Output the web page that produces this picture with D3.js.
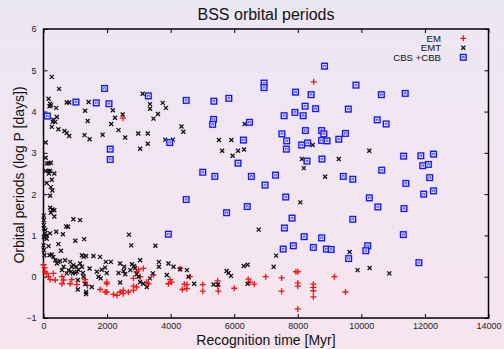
<!DOCTYPE html>
<html>
<head>
<meta charset="utf-8">
<script src="https://cdnjs.cloudflare.com/ajax/libs/d3/7.8.5/d3.min.js"></script>
<style>
  html, body { margin: 0; padding: 0; }
  body { width: 504px; height: 349px; overflow: hidden; }
</style>
</head>
<body>
<div id="chart"></div>
<script>
// time [Myr], log P [days]
const emPoints = [
  [8500,4.72],[2500,3.84],[6990,0.0],[7490,-0.03],[7490,-0.35],[7940,0.12],[8000,0.12],[8000,-0.15],
  [8000,-0.23],[8000,-0.78],[8490,-0.18],[8490,-0.26],[8490,-0.34],[8490,-0.49],[9150,0.0],[9500,-0.37],
  [6000,-0.28],[5480,-0.10],[5480,-0.23],[5500,-0.35],[5010,-0.19],[5010,-0.35],[6630,-0.18],[6500,-0.13],
  [6440,-0.06],[4610,0.0],[4510,-0.19],[4430,-0.18],[4370,-0.31],[4510,-0.29],[4300,0.2],[4030,-0.13],
  [3930,-0.17],[3980,-0.07],[3460,0.04],[3250,-0.13],[3300,-0.17],[3140,0.2],[2930,0.12],[2990,0.17],
  [2830,-0.04],[3040,0.0],[2830,-0.23],[2930,-0.25],[2830,-0.33],[2670,-0.37],[2510,-0.33],[2510,-0.41],
  [2410,-0.37],[2310,-0.45],[2200,-0.43],[1990,-0.37],[1940,-0.37],[1780,-0.31],[1990,-0.13],[1990,-0.17],
  [1380,-0.21],[1310,-0.13],[1310,-0.07],[1050,-0.19],[890,-0.07],[840,-0.17],[580,0.0],[580,-0.17],
  [630,-0.08],[370,-0.08],[310,0.08],[210,-0.07],[160,0.0],[100,0.08],[50,0.12],[30,0.22],[0,0.29]
];

const emtPoints = [
  [260,4.84],[490,4.55],[160,4.31],[210,4.19],[190,4.13],[240,4.15],[400,4.09],[730,4.22],[810,4.22],
  [1420,4.23],[1310,4.02],[2180,4.03],[2250,3.85],[2490,3.93],[3120,4.43],[3350,4.18],[3350,4.07],
  [3460,3.83],[3600,3.94],[3750,4.21],[3850,4.09],[420,3.87],[310,3.80],
  [290,3.75],[370,3.75],[260,3.63],[470,3.57],[660,3.53],[730,3.48],[810,3.41],[1290,3.43],[1450,3.33],
  [1390,3.77],[1860,3.44],[2130,3.70],[2360,3.55],[2570,3.37],[2980,3.47],[3280,3.47],[3280,3.22],
  [3040,3.10],[3830,3.32],[4070,3.32],[4340,3.64],[4400,3.51],[6330,3.70],[5520,3.31],[5910,3.31],
  [5620,3.05],[5950,2.93],[6120,3.05],[6310,3.08],[8130,2.85],[8190,2.63],[8470,3.19],[9290,2.85],
  [8860,2.42],[10250,3.05],[8080,1.80],[6770,1.14],[2690,1.02],
  [70,3.25],[70,2.88],[100,2.74],[160,2.75],[230,2.76],[70,2.56],[160,2.56],[210,2.56],[340,2.50],
  [170,2.50],[260,2.35],[100,2.27],[230,2.17],[280,2.09],[210,1.96],[210,1.67],[280,1.63],[340,1.61],
  [230,1.55],[340,1.46],[10,1.48],[10,1.37],[940,1.39],[1150,1.37],[710,1.22],[770,1.21],[10,1.25],
  [10,1.17],[60,1.13],[400,1.09],[610,1.03],[50,1.05],[100,1.00],
  [10,0.96],[100,0.92],[210,1.05],[1000,0.87],[1280,0.91],[2760,0.76],[3520,0.75],[0,0.76],[10,0.64],
  [30,0.52],[160,0.74],[470,0.79],[550,0.63],[260,0.54],[190,0.52],[310,0.48],[370,0.40],[470,0.36],
  [520,0.38],[420,0.32],[580,0.16],[630,0.24],[680,0.40],[840,0.36],[890,0.24],[940,0.28],[1030,0.24],
  [1100,0.17],[1150,0.32],[1210,0.52],[1260,0.48],[1340,0.50],[1570,0.50],[1780,0.48],[1960,0.36],
  [2120,0.36],[2410,0.32],[2540,0.24],[2780,0.30],[2850,0.26],[3040,0.40],[3440,0.08],[3630,0.36],
  [3630,0.24],[3930,0.32],[4090,0.24],[4300,0.18],[4510,0.16],[4560,0.0],[4740,-0.17],[5350,-0.19],
  [5490,-0.19],[5760,0.14],[5820,0.09],[5900,0.02],[6300,0.26],[6420,0.29],[6420,-0.17],[7320,0.51],
  [7240,0.24],[9630,0.60],[9880,0.16],[10260,0.21],[10880,0.08],
  [730,0.08],[790,0.16],[870,0.12],[920,0.08],[1000,0.09],[1050,0.12],[1080,-0.08],[1080,-0.31],
  [1210,0.24],[1240,0.09],[1260,0.0],[1310,-0.18],[1340,-0.37],[1340,-0.42],[1450,0.20],[1520,-0.25],
  [1680,0.12],[1730,0.0],[1800,-0.04],[1830,0.17],[1940,0.22],[1990,0.09],[2360,0.09],[2410,-0.14],
  [2520,0.14],[2570,0.06],[2730,0.16],[2880,0.21],[2930,0.06],[2990,0.0],[3040,-0.13],[3140,-0.17],
  [3250,-0.25],[3350,-0.04],[3880,0.04]
];

const cbsPoints = [
  [1920,4.56],[1020,4.23],[1660,4.21],[2060,4.19],[3300,4.38],[4490,4.27],[5360,4.25],[5830,4.32],
  [6940,4.69],[6940,4.58],[7930,4.47],[8840,5.10],[8420,4.41],[8230,4.13],[8560,4.07],[9830,4.64],
  [10630,4.41],[11380,4.44],[9590,4.06],[120,3.89],[7910,3.98],[7570,3.90],[8170,3.90],[5350,3.81],
  [10500,3.80],[6480,3.74],[5320,3.69],[10780,3.70],[6290,3.31],[3970,3.25],[2100,3.09],[2100,2.84],
  [6120,2.75],[5010,2.53],[5390,2.43],[6540,2.43],[7300,2.46],[6970,2.22],[4490,1.87],[6410,1.70],
  [5760,1.55],[7620,1.93],[7820,1.42],[7580,1.18],[8200,0.97],[8750,0.94],[3930,1.03],[7500,3.46],
  [7650,3.29],[7640,3.09],[8240,3.54],[8120,3.19],[8310,3.24],[8290,2.80],[8750,3.54],[8820,3.46],
  [8750,3.30],[8920,3.29],[8760,2.85],[9290,3.33],[9500,3.47],[9430,2.43],[9730,2.36],[9730,1.39],
  [10250,1.91],[10520,1.69],[10640,2.58],[11330,2.92],[11870,2.93],[12270,2.97],[11930,2.69],
  [12110,2.72],[12150,2.40],[11400,2.26],[11960,2.00],[12270,2.08],[11340,1.65],[11320,1.02],
  [7540,0.67],[7860,0.75],[8490,0.71],[8900,0.67],[9050,0.66],[10200,0.75],[10140,0.63],[9600,0.44],
  [11810,0.34]
];

const xTicks = [0, 2000, 4000, 6000, 8000, 10000, 12000, 14000];
const yTicks = [-1, 0, 1, 2, 3, 4, 5, 6];
const legendLabels = ["EM", "EMT", "CBS +CBB"];

const width = 504, height = 349;
const plotLeft = 43.5, plotRight = 488.5, plotTop = 29, plotBottom = 318;
const font = "'Liberation Sans', Arial, Helvetica, sans-serif";

const svg = d3.select("#chart").append("svg")
    .attr("width", width)
    .attr("height", height)
    .style("font-family", font);

const grad = svg.append("defs").append("linearGradient")
    .attr("id", "bg")
    .attr("x1", 0).attr("y1", 0).attr("x2", 0).attr("y2", 1);
grad.append("stop").attr("offset", "0%").attr("stop-color", "#ece7f4");
grad.append("stop").attr("offset", "100%").attr("stop-color", "#f7e5ee");

svg.append("rect")
    .attr("width", width)
    .attr("height", height)
    .attr("fill", "url(#bg)");

const x = d3.scaleLinear().domain([0, 14000]).range([plotLeft, plotRight]);
const y = d3.scaleLinear().domain([-1, 6]).range([plotBottom, plotTop]);

// axes, gnuplot style: ticks inward on every side
function styleAxis(g) {
    g.select(".domain").remove();
    g.selectAll(".tick line").attr("stroke", "#000").attr("stroke-width", 1);
    g.selectAll(".tick text")
        .attr("fill", "#222")
        .style("font-size", "9px")
        .style("font-family", font);
}

svg.append("g")
    .attr("transform", `translate(0,${plotBottom})`)
    .call(d3.axisBottom(x).tickValues(xTicks).tickSize(-4).tickPadding(5).tickFormat(d3.format("d")))
    .call(styleAxis);

svg.append("g")
    .attr("transform", `translate(0,${plotTop})`)
    .call(d3.axisTop(x).tickValues(xTicks).tickSize(-4).tickFormat(""))
    .call(styleAxis);

svg.append("g")
    .attr("transform", `translate(${plotLeft},0)`)
    .call(d3.axisLeft(y).tickValues(yTicks).tickSize(-4).tickPadding(7).tickFormat(d3.format("d")))
    .call(styleAxis);

svg.append("g")
    .attr("transform", `translate(${plotRight},0)`)
    .call(d3.axisRight(y).tickValues(yTicks).tickSize(-4).tickFormat(""))
    .call(styleAxis);

svg.append("rect")
    .attr("x", plotLeft)
    .attr("y", plotTop)
    .attr("width", plotRight - plotLeft)
    .attr("height", plotBottom - plotTop)
    .attr("fill", "none")
    .attr("stroke", "#000")
    .attr("stroke-width", 1.5);

// markers
function drawPlus(sel, s) {
    sel.attr("d", `M${-s},0H${s}M0,${-s}V${s}`);
}
function drawCross(sel, s) {
    sel.attr("d", `M${-s},${-s}L${s},${s}M${-s},${s}L${s},${-s}`);
}
function drawSquare(g) {
    g.append("rect")
        .attr("x", -3.8).attr("y", -3.8).attr("width", 7.6).attr("height", 7.6)
        .attr("fill", "rgba(120,120,255,0.35)");
    g.append("rect")
        .attr("x", -2.8).attr("y", -2.8).attr("width", 5.6).attr("height", 5.6)
        .attr("fill", "#f0ecff")
        .attr("stroke", "#1515f5")
        .attr("stroke-width", 1.3);
    g.append("path")
        .attr("d", "M-0.9,1.2V-0.8H0.9V1.2")
        .attr("fill", "none")
        .attr("stroke", "#2a2af5")
        .attr("stroke-width", 0.8);
}

const plot = svg.append("g");

plot.append("g").selectAll("path")
    .data(emPoints)
    .join("path")
    .attr("transform", d => `translate(${x(d[0])},${y(d[1])})`)
    .call(drawPlus, 3)
    .attr("stroke", "#ff1010")
    .attr("stroke-width", 1.3)
    .attr("fill", "none");

plot.append("g").selectAll("path")
    .data(emtPoints)
    .join("path")
    .attr("transform", d => `translate(${x(d[0])},${y(d[1])})`)
    .call(drawCross, 2)
    .attr("stroke", "#111")
    .attr("stroke-width", 1.3)
    .attr("fill", "none");

plot.append("g").selectAll("g")
    .data(cbsPoints)
    .join("g")
    .attr("transform", d => `translate(${x(d[0])},${y(d[1])})`)
    .each(function() { drawSquare(d3.select(this)); });

// legend
const legend = svg.append("g");
const rowY = [38.3, 47.8, 57.3];
legendLabels.forEach((label, i) => {
    legend.append("text")
        .attr("x", 441)
        .attr("y", rowY[i] + 3.5)
        .attr("text-anchor", "end")
        .style("font-size", "9.6px")
        .attr("fill", "#111")
        .text(label);
});
legend.append("path")
    .attr("transform", `translate(463.3,${rowY[0]})`)
    .call(drawPlus, 3)
    .attr("stroke", "#ff1010").attr("stroke-width", 1.3);
legend.append("path")
    .attr("transform", `translate(463.3,${rowY[1]})`)
    .call(drawCross, 2)
    .attr("stroke", "#111").attr("stroke-width", 1.3);
legend.append("g")
    .attr("transform", `translate(463.3,${rowY[2]})`)
    .call(drawSquare);

// titles
svg.append("text")
    .attr("x", 266)
    .attr("y", 19.5)
    .attr("text-anchor", "middle")
    .style("font-size", "16px")
    .attr("fill", "#111")
    .text("BSS orbital periods");

svg.append("text")
    .attr("x", 266)
    .attr("y", 345)
    .attr("text-anchor", "middle")
    .style("font-size", "14px")
    .attr("fill", "#111")
    .text("Recognition time [Myr]");

svg.append("text")
    .attr("transform", "translate(23.5,175) rotate(-90)")
    .attr("text-anchor", "middle")
    .style("font-size", "14px")
    .attr("fill", "#111")
    .text("Orbital periods (log P [days])");
</script>
</body>
</html>
